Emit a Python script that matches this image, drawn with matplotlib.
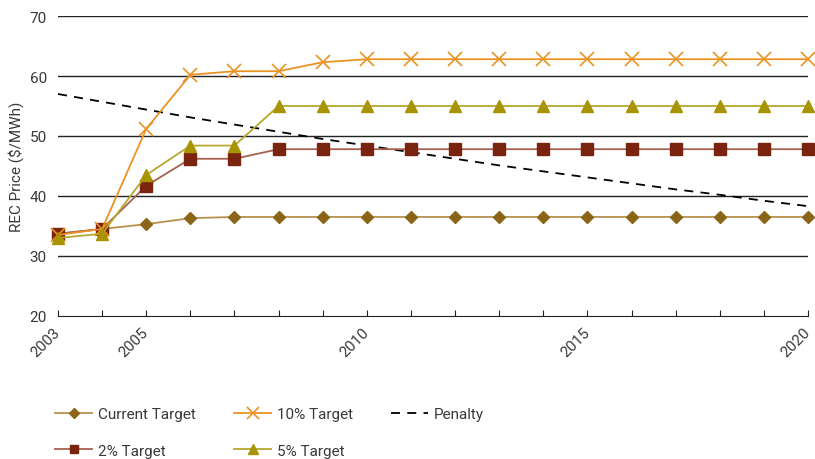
import matplotlib.pyplot as plt

plt.rcParams["font.family"] = ["Roboto", "DejaVu Sans"]

years = list(range(2003, 2021))
current_target = [33.7, 34.5, 35.3, 36.3, 36.5, 36.5, 36.5, 36.5, 36.5,
                  36.5, 36.5, 36.5, 36.5, 36.5, 36.5, 36.5, 36.5, 36.5]
target_2pct = [33.7, 34.5, 41.7, 46.2, 46.2, 47.8, 47.8, 47.8, 47.8,
               47.8, 47.8, 47.8, 47.8, 47.8, 47.8, 47.8, 47.8, 47.8]
target_5pct = [33.0, 33.7, 43.5, 48.4, 48.4, 55.0, 55.0, 55.0, 55.0,
               55.0, 55.0, 55.0, 55.0, 55.0, 55.0, 55.0, 55.0, 55.0]
target_10pct = [33.5, 34.5, 51.2, 60.2, 60.8, 60.8, 62.3, 62.8, 62.8,
                62.8, 62.8, 62.8, 62.8, 62.8, 62.8, 62.8, 62.8, 62.8]
penalty = [57.0, 55.7, 54.4, 53.1, 51.9, 50.7, 49.5, 48.4, 47.3,
           46.2, 45.1, 44.1, 43.1, 42.1, 41.1, 40.2, 39.2, 38.3]

year_labels = [2003, 2005, 2010, 2015, 2020]
text_col = "#3a3a3a"

fig = plt.figure(figsize=(8.15, 4.6), dpi=100)
ax = fig.add_axes([0.0712, 0.311, 0.9202, 0.652])

for y in [30, 40, 50, 60, 70]:
    ax.axhline(y, color="#222222", lw=1.0, zorder=1)

ax.plot(years, current_target, color="#B8914E", lw=1.3, marker="D", ms=6,
        mfc="#8B6518", mec="#8B6518", label="Current Target", clip_on=False, zorder=3)
ax.plot(years, target_2pct, color="#A5614F", lw=1.3, marker="s", ms=8,
        mfc="#7A2410", mec="#7A2410", label="2% Target", clip_on=False, zorder=3)
ax.plot(years, target_10pct, color="#EB9224", lw=1.3, marker="x", ms=10, mew=1.2,
        label="10% Target", clip_on=False, zorder=3)
ax.plot(years, target_5pct, color="#B8A72E", lw=1.3, marker="^", ms=9,
        mfc="#A89400", mec="#A89400", label="5% Target", clip_on=False, zorder=3)
ax.plot(years, penalty, color="black", lw=1.3, ls=(0, (5, 4)), label="Penalty",
        zorder=2)

ax.set_xlim(2003, 2020)
ax.set_ylim(20, 70)
ax.set_yticks([20, 30, 40, 50, 60, 70])
ax.set_xticks(years)
ax.set_xticklabels([str(y) if y in year_labels else "" for y in years],
                   rotation=45, ha="right", va="center", rotation_mode="anchor")
ax.tick_params(axis="x", direction="in", length=4, color="#222222",
               labelsize=11, labelcolor=text_col, pad=10)
ax.tick_params(axis="y", length=0, labelsize=11, labelcolor=text_col, pad=8)
ax.set_ylabel("REC Price ($/MWh)", fontsize=11, color=text_col, labelpad=4)

for side in ["left", "right", "top"]:
    ax.spines[side].set_visible(False)
ax.spines["bottom"].set_color("#222222")

handles, labels = ax.get_legend_handles_labels()
fig.legend(handles, labels, ncol=3, loc="upper left", bbox_to_anchor=(0.068, 0.112),
           frameon=False, fontsize=11, labelcolor=text_col, handlelength=2.4,
           handletextpad=0.4, markerscale=0.8, columnspacing=2.5,
           labelspacing=1.45, borderaxespad=0, borderpad=0)

fig.savefig("out.png", dpi=100)
